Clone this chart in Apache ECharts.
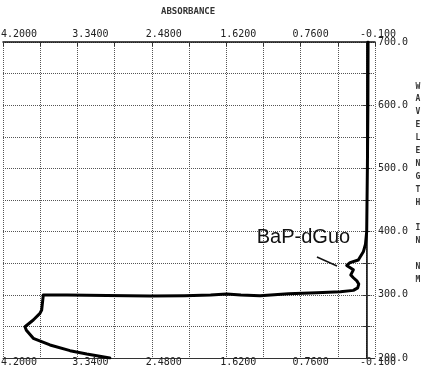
<!DOCTYPE html>
<html>
<head>
<meta charset="utf-8">
<script src="https://cdn.jsdelivr.net/npm/echarts@6/dist/echarts.min.js"></script>
<style>
html,body{margin:0;padding:0;background:#fff;}
#c{width:423px;height:376px;}
</style>
</head>
<body>
<div id="c"></div>
<script>
// Absorbance (x) and wavelength in nm (y), traced from top (700 nm) to bottom (200 nm)
const absorbance = [
  -0.020, -0.018, -0.012, -0.004, 0.010, 0.035, 0.093, 0.189, 0.227, 0.150, 0.140, 0.180,
  0.150, 0.110, 0.088, 0.100, 0.150, 0.300, 0.574, 0.900, 1.229, 1.450, 1.614, 1.800,
  2.100, 2.501, 3.000, 3.460, 3.734, 3.755, 3.753, 3.773, 3.850, 3.946, 3.930, 3.850,
  3.657, 3.425, 3.232, 2.965
];
const wavelength = [
  700, 600, 500, 400, 380, 368, 355, 350.8, 346.5, 339.5, 337, 331.5,
  327, 322, 317, 311, 307, 305, 303.3, 301.5, 298.6, 299.5, 301.3, 299.5,
  298.5, 298.1, 298.8, 299.7, 299.8, 299.0, 276, 270.7, 260.1, 249.5, 244, 231.2,
  220.6, 211.6, 206.3, 200
];
const xTickLabels = ['-0.100', '0.7600', '1.6200', '2.4800', '3.3400', '4.2000'];
const yTickLabels = ['200.0', '300.0', '400.0', '500.0', '600.0', '700.0'];
const xMin = -0.1, xMax = 4.2, xStep = 0.43;
const yMin = 200, yMax = 700, yStep = 50;
const annotationText = 'BaP-dGuo';
const annotationAt = [0.727, 390.7];
const leaderFrom = [0.571, 359.8];
const leaderTo = [0.339, 345.6];

const mono = '"DejaVu Sans Mono", "Liberation Mono", monospace';
const spacer = [6, 20, 24, 24, 26, 32];

function xLabel(v) {
  const i = Math.round((v - xMin) / xStep);
  if (i % 2) return '';
  const k = i / 2;
  return '{s' + k + '| }{t|' + xTickLabels[k] + '}';
}
const richX = { t: { fontFamily: mono, fontSize: 10, color: '#222' } };
spacer.forEach((w, k) => { richX['s' + k] = { width: w, fontSize: 10 }; });

function yLabel(v) {
  const i = Math.round((v - yMin) / yStep);
  if (i % 2) return '';
  return yTickLabels[i / 2];
}

const data = absorbance.map((a, i) => [a, wavelength[i]]);

const chart = echarts.init(document.getElementById('c'), null, { renderer: 'canvas' });
chart.setOption({
  animation: false,
  backgroundColor: '#fff',
  grid: { left: 3, right: 48, top: 42, bottom: 18, containLabel: false, outerBoundsMode: 'none' },
  xAxis: [
    {
      type: 'value', position: 'top', inverse: true,
      min: xMin, max: xMax, interval: xStep,
      axisLine: { show: true, lineStyle: { color: '#111', width: 1.5 } },
      axisTick: { show: true, inside: true, length: 4, lineStyle: { color: '#333' } },
      splitLine: { show: true, lineStyle: { color: '#555', type: 'dotted', width: 1 } },
      axisLabel: { show: true, margin: 3, formatter: xLabel, rich: richX, hideOverlap: false,
        showMinLabel: true, showMaxLabel: true }
    },
    {
      type: 'value', position: 'bottom', inverse: true,
      min: xMin, max: xMax, interval: xStep,
      axisLine: { show: true, lineStyle: { color: '#333', width: 1 } },
      axisTick: { show: false },
      splitLine: { show: false },
      axisLabel: { show: true, margin: -1, formatter: xLabel, rich: richX, hideOverlap: false,
        showMinLabel: true, showMaxLabel: true }
    }
  ],
  yAxis: [
    {
      type: 'value', position: 'right',
      min: yMin, max: yMax, interval: yStep,
      axisLine: { show: true, lineStyle: { color: '#333', type: 'dotted', width: 1 } },
      axisTick: { show: true, inside: true, length: 4, lineStyle: { color: '#333' } },
      splitLine: { show: true, lineStyle: { color: '#555', type: 'dotted', width: 1 } },
      axisLabel: { show: true, margin: 3, formatter: yLabel, fontFamily: mono, fontSize: 10,
        color: '#222', hideOverlap: false, showMinLabel: true, showMaxLabel: true }
    },
    {
      type: 'value', position: 'left',
      min: yMin, max: yMax, interval: yStep,
      axisLine: { show: true, lineStyle: { color: '#111', width: 1.5 } },
      axisTick: { show: true, inside: true, length: 4, lineStyle: { color: '#333' } },
      splitLine: { show: false },
      axisLabel: { show: false }
    }
  ],
  graphic: [
    { type: 'text', left: 188 - 27, top: 7,
      style: { text: 'ABSORBANCE', font: 'bold 9px ' + mono, fill: '#333' } },
    { type: 'text', x: 418, y: 80,
      style: { text: 'W\nA\nV\nE\nL\nE\nN\nG\nT\nH\n\nI\nN\n\nN\nM',
        font: 'bold 8px ' + mono, fill: '#333', align: 'center', verticalAlign: 'top',
        lineHeight: 12.9 } }
  ],
  series: [
    {
      type: 'line', xAxisIndex: 0, yAxisIndex: 0,
      data: data, showSymbol: false, symbol: 'none', smooth: false,
      lineStyle: { color: '#000', width: 3, join: 'round', cap: 'round' },
      markPoint: {
        symbol: 'circle', symbolSize: 0, silent: true,
        data: [{ coord: annotationAt, value: annotationText }],
        label: { show: true, position: 'inside', formatter: annotationText,
          fontFamily: '"Liberation Sans", Arial, sans-serif', fontSize: 20, color: '#111' }
      },
      markLine: {
        symbol: 'none', silent: true, animation: false,
        label: { show: false },
        lineStyle: { color: '#111', width: 1.5, type: 'solid' },
        data: [[{ coord: leaderFrom }, { coord: leaderTo }]]
      }
    }
  ]
});
</script>
</body>
</html>
